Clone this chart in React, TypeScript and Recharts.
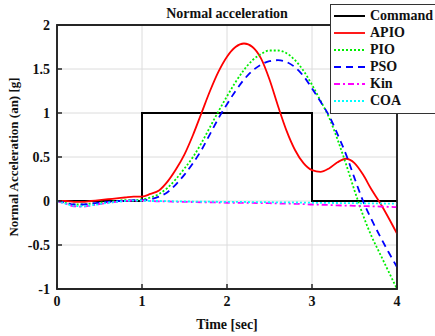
import React from 'react';
import { LineChart, Line, XAxis, YAxis, CartesianGrid, Label, ReferenceArea } from 'recharts';

const TIME = [0, 0.1, 0.2, 0.3, 0.4, 0.5, 0.6, 0.7, 0.8, 0.9, 1.0, 1.1, 1.2, 1.3, 1.4, 1.5, 1.6, 1.7, 1.8, 1.9, 2.0, 2.1, 2.2, 2.3, 2.4, 2.5, 2.6, 2.7, 2.8, 2.9, 3.0, 3.1, 3.2, 3.3, 3.4, 3.5, 3.6, 3.7, 3.8, 3.9, 4.0];
const COMMAND = [0, 0, 0, 0, 0, 0, 0, 0, 0, 0, 1, 1, 1, 1, 1, 1, 1, 1, 1, 1, 1, 1, 1, 1, 1, 1, 1, 1, 1, 1, 0, 0, 0, 0, 0, 0, 0, 0, 0, 0, 0];
const APIO = [0, 0, -0.01, -0.01, 0, 0.01, 0.02, 0.03, 0.04, 0.05, 0.05, 0.08, 0.12, 0.22, 0.36, 0.53, 0.75, 1.0, 1.25, 1.47, 1.64, 1.75, 1.79, 1.75, 1.62, 1.38, 1.08, 0.8, 0.58, 0.43, 0.35, 0.33, 0.37, 0.44, 0.48, 0.43, 0.3, 0.13, -0.02, -0.19, -0.37];
const PIO = [0, -0.02, -0.04, -0.04, -0.03, -0.02, -0.01, 0, 0.01, 0.01, 0.02, 0.04, 0.08, 0.15, 0.25, 0.37, 0.5, 0.66, 0.84, 1.02, 1.19, 1.35, 1.49, 1.6, 1.67, 1.71, 1.71, 1.68, 1.6, 1.48, 1.32, 1.14, 0.95, 0.7, 0.42, 0.12, -0.16, -0.4, -0.6, -0.8, -1.0];
const PSO = [0, -0.02, -0.04, -0.04, -0.03, -0.02, -0.01, 0, 0, 0.01, 0.01, 0.02, 0.05, 0.1, 0.19, 0.3, 0.43, 0.58, 0.76, 0.94, 1.1, 1.25, 1.38, 1.48, 1.55, 1.59, 1.6, 1.58, 1.52, 1.42, 1.28, 1.13, 0.97, 0.76, 0.53, 0.26, 0.0, -0.21, -0.4, -0.58, -0.75];
const KIN = [0, -0.03, -0.06, -0.065, -0.05, -0.035, -0.02, -0.01, 0, 0.005, 0.005, 0, -0.005, -0.005, -0.01, -0.01, -0.012, -0.015, -0.015, -0.018, -0.02, -0.02, -0.022, -0.022, -0.025, -0.025, -0.028, -0.03, -0.032, -0.035, -0.04, -0.042, -0.045, -0.05, -0.052, -0.055, -0.058, -0.06, -0.063, -0.066, -0.07];
const COA = [0, -0.03, -0.055, -0.06, -0.05, -0.035, -0.02, -0.01, 0, 0.005, 0.005, 0, 0, -0.002, -0.004, -0.005, -0.006, -0.007, -0.008, -0.009, -0.01, -0.01, -0.011, -0.012, -0.013, -0.014, -0.015, -0.016, -0.017, -0.018, -0.02, -0.021, -0.022, -0.023, -0.024, -0.025, -0.026, -0.027, -0.028, -0.029, -0.03];

const X_TICKS = [0, 1, 2, 3, 4];
const Y_TICKS = [-1, -0.5, 0, 0.5, 1, 1.5, 2];

const SERIES = [
  { key: 'Command', values: COMMAND, color: '#000000', dash: undefined as string | undefined, width: 2, type: 'stepAfter' },
  { key: 'APIO', values: APIO, color: '#ff0000', dash: undefined as string | undefined, width: 1.8, type: 'monotone' },
  { key: 'PIO', values: PIO, color: '#00ee00', dash: '2 2', width: 1.8, type: 'monotone' },
  { key: 'PSO', values: PSO, color: '#0000ff', dash: '7 5', width: 1.8, type: 'monotone' },
  { key: 'Kin', values: KIN, color: '#ff00ff', dash: '6 3 2 3', width: 1.8, type: 'monotone' },
  { key: 'COA', values: COA, color: '#00ffff', dash: '2 2', width: 1.8, type: 'monotone' },
];

const data = TIME.map((t, i) => {
  const row: Record<string, number> = { t };
  SERIES.forEach((s) => {
    row[s.key] = s.values[i];
  });
  return row;
});

const FONT = '"Liberation Serif", "Times New Roman", serif';
const AXIS_COLOR = '#262626';

const XTick = (props: any) => {
  const { x, y, payload } = props;
  return (
    <text x={x} y={y} dy={10} textAnchor="middle" style={{ fontFamily: FONT, fontWeight: 700, fontSize: 14, fill: '#111' }}>
      {payload.value}
    </text>
  );
};

const YTick = (props: any) => {
  const { x, y, payload } = props;
  return (
    <text x={x} y={y} dy={5} textAnchor="end" style={{ fontFamily: FONT, fontWeight: 700, fontSize: 14, fill: '#111' }}>
      {payload.value}
    </text>
  );
};

const LegendBox = () => (
  <div
    style={{
      position: 'absolute',
      left: 330,
      top: 4,
      width: 112,
      height: 110,
      background: '#fff',
      border: '1.3px solid #333',
      boxSizing: 'border-box',
      paddingTop: 2,
    }}
  >
    {SERIES.map((s) => (
      <div key={s.key} style={{ display: 'flex', alignItems: 'center', height: 17 }}>
        <svg width={36} height={10} style={{ marginLeft: 2 }}>
          <line x1={1} y1={5} x2={32} y2={5} stroke={s.color} strokeWidth={s.width} strokeDasharray={s.dash} />
        </svg>
        <span style={{ fontFamily: FONT, fontWeight: 700, fontSize: 14, color: '#111', marginLeft: 1, lineHeight: '17px' }}>
          {s.key}
        </span>
      </div>
    ))}
  </div>
);

export default function App() {
  return (
    <div style={{ position: 'relative', width: 435, height: 336, background: '#fff', overflow: 'hidden', fontFamily: FONT, fontWeight: 700 }}>
      <style>{'body{margin:0;}'}</style>
      <div
        style={{
          position: 'absolute',
          left: 57,
          width: 340,
          top: 5,
          textAlign: 'center',
          fontFamily: FONT,
          fontWeight: 700,
          fontSize: 14,
          color: '#111',
          lineHeight: '18px',
        }}
      >
        Normal acceleration
      </div>
      <LineChart width={435} height={336} data={data} margin={{ top: 24, right: 0, bottom: 0, left: 0 }} style={{ fontFamily: FONT }}>
        <CartesianGrid xAxisId="bottom" yAxisId="left" stroke="#dcdcdc" strokeWidth={1} />
        <XAxis
          xAxisId="bottom"
          dataKey="t"
          type="number"
          domain={[0, 4]}
          ticks={X_TICKS}
          height={47}
          tickSize={-5}
          tickMargin={12}
          tick={<XTick />}
          axisLine={{ stroke: AXIS_COLOR, strokeWidth: 1.5 }}
          tickLine={{ stroke: AXIS_COLOR, strokeWidth: 1.5 }}
        >
          <Label value="Time [sec]" position="insideBottom" offset={7} style={{ fontFamily: FONT, fontWeight: 700, fontSize: 14, fill: '#111' }} />
        </XAxis>
        <XAxis
          xAxisId="top"
          orientation="top"
          dataKey="t"
          type="number"
          domain={[0, 4]}
          ticks={X_TICKS}
          height={1}
          tickSize={-5}
          tick={false}
          axisLine={{ stroke: AXIS_COLOR, strokeWidth: 1.5 }}
          tickLine={{ stroke: AXIS_COLOR, strokeWidth: 1.5 }}
        />
        <YAxis
          yAxisId="left"
          type="number"
          domain={[-1, 2]}
          ticks={Y_TICKS}
          width={57}
          tickSize={-5}
          tickMargin={12}
          tick={<YTick />}
          axisLine={{ stroke: AXIS_COLOR, strokeWidth: 1.5 }}
          tickLine={{ stroke: AXIS_COLOR, strokeWidth: 1.5 }}
        >
          <Label
            value="Normal Acceleration (an) [g]"
            angle={-90}
            position="insideLeft"
            offset={13}
            style={{ textAnchor: 'middle', fontFamily: FONT, fontWeight: 700, fontSize: 13, fill: '#111' }}
          />
        </YAxis>
        <YAxis
          yAxisId="right"
          orientation="right"
          type="number"
          domain={[-1, 2]}
          ticks={Y_TICKS}
          width={38}
          tickSize={-5}
          tick={false}
          axisLine={{ stroke: AXIS_COLOR, strokeWidth: 1.5 }}
          tickLine={{ stroke: AXIS_COLOR, strokeWidth: 1.5 }}
        />
        <ReferenceArea
          xAxisId="bottom"
          yAxisId="left"
          x1={0}
          x2={4}
          y1={-1}
          y2={2}
          fill="none"
          fillOpacity={0}
          stroke={AXIS_COLOR}
          strokeWidth={1.8}
          ifOverflow="visible"
        />
        {SERIES.map((s) => (
          <Line
            key={s.key}
            xAxisId="bottom"
            yAxisId="left"
            dataKey={s.key}
            type={s.type as any}
            stroke={s.color}
            strokeWidth={s.width}
            strokeDasharray={s.dash}
            dot={false}
            activeDot={false}
            isAnimationActive={false}
          />
        ))}
      </LineChart>
      <LegendBox />
    </div>
  );
}
